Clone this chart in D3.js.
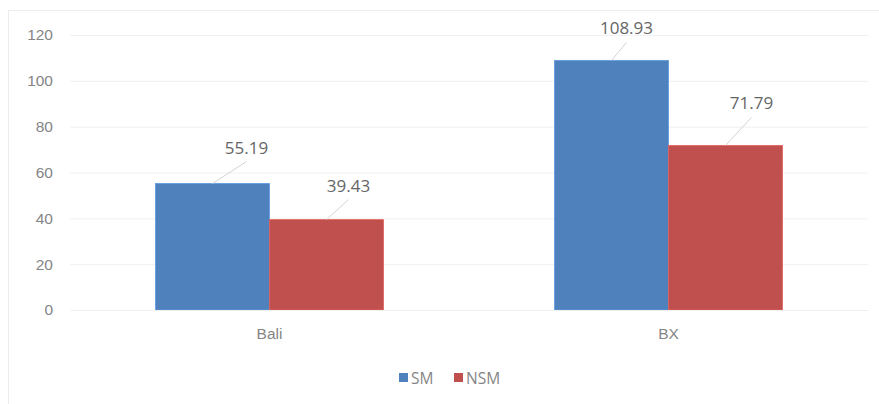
<!DOCTYPE html>
<html><head><meta charset="utf-8">
<script src="https://cdn.jsdelivr.net/npm/d3@7"></script>
<style>body{margin:0;background:#fff;} svg{display:block;font-family:"Open Sans","Noto Sans",sans-serif;}</style>
</head><body>
<svg id="c" width="879" height="404"></svg>
<script>
const categories = ["Bali", "BX"];
const seriesNames = ["SM", "NSM"];
const smValues = [55.19, 108.93];
const nsmValues = [39.43, 71.79];
const yTicks = [0, 20, 40, 60, 80, 100, 120];
const colors = ["#4f81bd", "#c0504d"];

const svg = d3.select("#c");
const W = 879, H = 404;
const m = {left: 70, right: 11, top: 35, bottom: 94};
const x0 = d3.scaleBand().domain(categories).range([m.left, W - m.right]).paddingInner(0).paddingOuter(0);
const y = d3.scaleLinear().domain([0, 120]).range([H - m.bottom, m.top]);
const gapRatio = 1.5; // Excel gap width 150%
const barW = x0.bandwidth() / (seriesNames.length + gapRatio);
const x1 = d3.scaleBand().domain(seriesNames).range([0, barW * 2]).padding(0);

svg.append("rect").attr("x", 8.5).attr("y", 10.5).attr("width", 900).attr("height", 420)
  .attr("fill", "none").attr("stroke", "#ececec");

// gridlines
const yAxis = d3.axisLeft(y).tickValues(yTicks).tickSize(-(W - m.left - m.right)).tickPadding(17);
const ga = svg.append("g").attr("transform", `translate(${m.left},0)`).call(yAxis);
ga.select(".domain").remove();
ga.selectAll(".tick line").attr("stroke", "#f0f0f0");
ga.selectAll(".tick text").attr("fill", "#858585").style("font-size", "15.5px");

const rows = categories.map((c, i) => ({cat: c, vals: [smValues[i], nsmValues[i]]}));
const labelNudge = [[[34, -22], [22, -20]], [[15, -18], [26, -28]]];

rows.forEach((r, ci) => {
  const gx = x0(r.cat) + (x0.bandwidth() - barW * 2) / 2;
  r.vals.forEach((v, si) => {
    const bx = gx + x1(seriesNames[si]);
    svg.append("rect").attr("x", bx).attr("y", y(v)).attr("width", x1.bandwidth())
      .attr("height", y(0) - y(v)).attr("fill", colors[si])
      .attr("stroke", d3.color(colors[si]).brighter(0.5)).attr("stroke-width", 0.8);
    const cx = bx + x1.bandwidth() / 2, top = y(v);
    const [dx, dy] = labelNudge[ci][si];
    svg.append("line").attr("x1", cx).attr("y1", top).attr("x2", cx + dx).attr("y2", top + dy)
      .attr("stroke", "#d4d4d4").attr("stroke-width", 1);
    svg.append("text").attr("x", cx + dx).attr("y", top + dy - 8).attr("text-anchor", "middle")
      .attr("fill", "#666666").style("font-size", "17px").text(v.toFixed(2));
  });
});

// category axis
const xa = svg.append("g").attr("transform", `translate(0,${y(0)})`).call(d3.axisBottom(x0).tickSize(0).tickPadding(18));
xa.select(".domain").attr("stroke", "#f0f0f0");
xa.selectAll(".tick text").attr("fill", "#858585").style("font-size", "15.5px");

// legend
const lg = svg.append("g");
const legendX = [399, 454];
seriesNames.forEach((s, i) => {
  lg.append("rect").attr("x", legendX[i]).attr("y", 373).attr("width", 9).attr("height", 9).attr("fill", colors[i]);
  lg.append("text").attr("x", legendX[i] + 12).attr("y", 384).attr("fill", "#858585")
    .style("font-size", "15.5px").text(s);
});
</script>
</body></html>
